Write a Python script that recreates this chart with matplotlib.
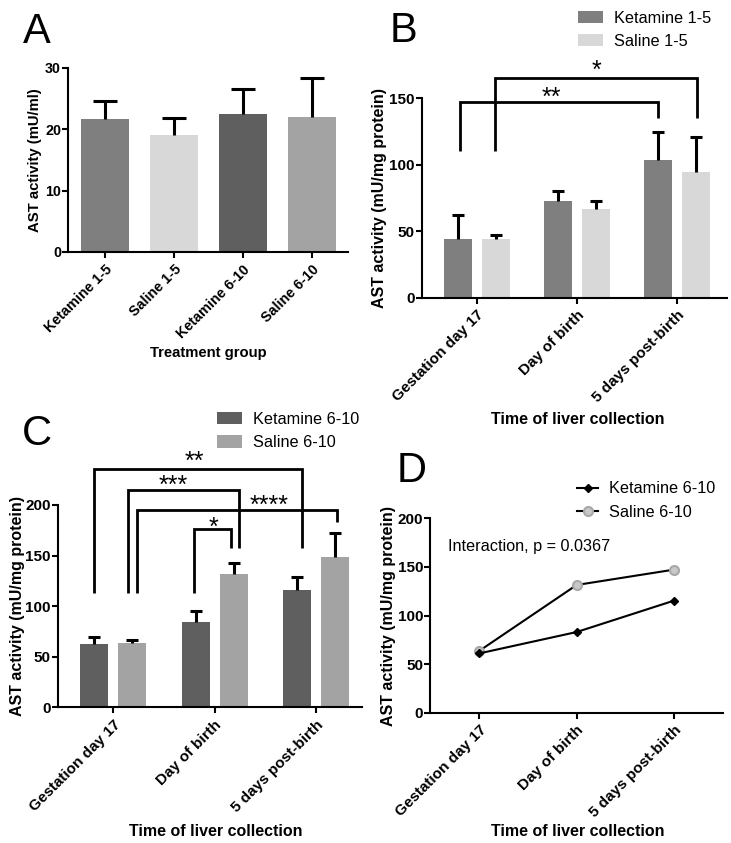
import matplotlib
matplotlib.use('Agg')
import matplotlib.pyplot as plt
from matplotlib.patches import Patch
from matplotlib.lines import Line2D
import numpy as np

plt.rcParams['font.family'] = ['Liberation Sans', 'DejaVu Sans']

# ---------------- data ----------------
a_groups = ['Ketamine 1-5', 'Saline 1-5', 'Ketamine 6-10', 'Saline 6-10']
a_means = [21.6, 19.1, 22.5, 21.9]
a_sem = [2.9, 2.7, 4.1, 6.4]

times = ['Gestation day 17', 'Day of birth', '5 days post-birth']
b_ket = [43.9, 73.0, 103.6]
b_ket_sem = [18.1, 7.0, 21.3]
b_sal = [44.0, 67.0, 94.4]
b_sal_sem = [3.2, 6.0, 26.5]

c_ket = [62.6, 84.0, 116.0]
c_ket_sem = [7.2, 11.5, 13.0]
c_sal = [63.9, 132.0, 148.3]
c_sal_sem = [2.3, 11.0, 23.7]

d_ket = [61.0, 83.0, 115.3]
d_sal = [63.6, 131.4, 147.2]

# significance brackets: (x_left, x_right, y_line, y_left_end, y_right_end)
b_brackets = [(-0.17, 1.813, 147.3, 110.6, 135.0), (0.18, 2.197, 165.4, 110.6, 135.5)]
b_stars = [('**', 0.747, 144.8), ('*', 1.193, 165.7)]
c_brackets = [(-0.187, 1.859, 235.8, 112.7, 157.0),
              (0.142, 1.240, 215.0, 112.7, 157.8),
              (0.231, 2.204, 194.7, 112.7, 182.9),
              (0.799, 1.158, 176.2, 112.7, 157.8)]
c_stars = [('**', 0.803, 235.3), ('***', 0.596, 211.9), ('****', 1.533, 192.2), ('*', 0.987, 170.8)]

# colours
col_k15 = '#7f7f7f'
col_s15 = '#d8d8d8'
col_k610 = '#5f5f5f'
col_s610 = '#a3a3a3'

W, H = 731, 843
fig = plt.figure(figsize=(W / 100, H / 100), dpi=100)


def add_axes(x0, x1, ytop, ybot):
    return fig.add_axes([x0 / W, 1 - ybot / H, (x1 - x0) / W, (ybot - ytop) / H])


def style(ax, tick_fs):
    for s in ['top', 'right']:
        ax.spines[s].set_visible(False)
    for s in ['left', 'bottom']:
        ax.spines[s].set_linewidth(1.5)
    ax.tick_params(axis='both', direction='out', length=4, width=1.5, labelsize=tick_fs)
    ax.tick_params(axis='y', pad=1)
    ax.tick_params(axis='x', pad=3.5)
    for lab in ax.get_yticklabels():
        lab.set_fontweight('bold')


def xlabels(ax, labels):
    ax.set_xticklabels(labels, rotation=45, ha='right', va='top', rotation_mode='anchor',
                       fontweight='bold')


def errs(ax, x, means, sems, capw):
    x = np.asarray(x, float)
    m = np.asarray(means, float)
    top = m + np.asarray(sems, float)
    ax.vlines(x, m, top, color='k', lw=2.2)
    ax.hlines(top, x - capw, x + capw, color='k', lw=2.2)


def set_labels(ax, xl, yl, xpos, ypos_x, fs):
    ax.set_xlabel(xl, fontweight='bold', fontsize=fs, va='center')
    ax.set_ylabel(yl, fontweight='bold', fontsize=fs, va='center')
    ax.xaxis.set_label_coords(xpos[0] / W, 1 - xpos[1] / H, transform=fig.transFigure)
    ax.yaxis.set_label_coords(ypos_x[0] / W, 1 - ypos_x[1] / H, transform=fig.transFigure)


def brackets(ax, brs, stars):
    for xl, xr, yt, y1, y2 in brs:
        ax.plot([xl, xl, xr, xr], [y1, yt, yt, y2], color='k', lw=2.0,
                clip_on=False, solid_joinstyle='miter', solid_capstyle='butt')
    for s, x, y in stars:
        ax.text(x, y, s, ha='center', va='baseline', fontsize=18, clip_on=False)


# ---------------- A ----------------
axA = add_axes(68, 348, 67.7, 252)
xa = np.arange(len(a_groups))
axA.bar(xa, a_means, width=0.70, color=[col_k15, col_s15, col_k610, col_s610])
errs(axA, xa, a_means, a_sem, 0.174)
axA.set_xlim(-0.536, 3.522)
axA.set_ylim(0, 30)
axA.set_yticks([0, 10, 20, 30])
axA.set_xticks(xa)
xlabels(axA, a_groups)
style(axA, 10.3)
set_labels(axA, 'Treatment group', 'AST activity (mU/ml)', (208.5, 353), (35.5, 160), 10.7)

# ---------------- B ----------------
axB = add_axes(421.7, 727, 98.3, 297.7)
xt = np.arange(len(times))
axB.bar(xt - 0.187, b_ket, width=0.28, color=col_k15, label='Ketamine 1-5')
axB.bar(xt + 0.187, b_sal, width=0.28, color=col_s15, label='Saline 1-5')
errs(axB, xt - 0.187, b_ket, b_ket_sem, 0.06)
errs(axB, xt + 0.187, b_sal, b_sal_sem, 0.06)
axB.set_xlim(-0.553, 2.5)
axB.set_ylim(0, 150)
axB.set_yticks([0, 50, 100, 150])
axB.set_xticks(xt)
xlabels(axB, times)
style(axB, 11)
set_labels(axB, 'Time of liver collection', 'AST activity (mU/mg protein)', (578, 420), (379.5, 198), 11.5)
brackets(axB, b_brackets, b_stars)

# ---------------- C ----------------
axC = add_axes(57.7, 361.7, 505, 707.3)
axC.bar(xt - 0.187, c_ket, width=0.275, color=col_k610, label='Ketamine 6-10')
axC.bar(xt + 0.187, c_sal, width=0.275, color=col_s610, label='Saline 6-10')
errs(axC, xt - 0.187, c_ket, c_ket_sem, 0.06)
errs(axC, xt + 0.187, c_sal, c_sal_sem, 0.06)
axC.set_xlim(-0.549, 2.451)
axC.set_ylim(0, 200)
axC.set_yticks([0, 50, 100, 150, 200])
axC.set_xticks(xt)
xlabels(axC, times)
style(axC, 11)
set_labels(axC, 'Time of liver collection', 'AST activity (mU/mg protein)', (216, 831), (17.5, 606), 11.5)
brackets(axC, c_brackets, c_stars)

# ---------------- D ----------------
axD = add_axes(430, 723.3, 518.3, 712.7)
axD.plot(xt, d_sal, color='k', lw=1.5, marker='o', ms=6.5, mfc='#c8c8c8', mec='#a8a8a8', mew=1.5,
         label='Saline 6-10')
axD.plot(xt, d_ket, color='k', lw=1.5, marker='D', ms=4.2, mfc='k', mec='k', label='Ketamine 6-10')
axD.set_xlim(-0.506, 2.506)
axD.set_ylim(0, 200)
axD.set_yticks([0, 50, 100, 150, 200])
axD.set_xticks(xt)
xlabels(axD, times)
style(axD, 11)
set_labels(axD, 'Time of liver collection', 'AST activity (mU/mg protein)', (577.5, 832), (388, 615.5), 11.5)
axD.text(448.3 / W, 1 - 546.7 / H, 'Interaction, p = 0.0367', transform=fig.transFigure,
         ha='left', va='center', fontsize=11.7)

# ---------------- legends ----------------
leg_kw = dict(loc='upper left', bbox_transform=fig.transFigure, frameon=False, borderpad=0,
              borderaxespad=0, handletextpad=0.65, labelspacing=0.5, fontsize=11.7)
axB.legend([Patch(facecolor=col_k15, edgecolor='none'), Patch(facecolor=col_s15, edgecolor='none')],
           ['Ketamine 1-5', 'Saline 1-5'], bbox_to_anchor=(578 / W, 1 - 10.8 / H),
           handlelength=1.54, handleheight=0.8, **leg_kw)
axC.legend([Patch(facecolor=col_k610, edgecolor='none'), Patch(facecolor=col_s610, edgecolor='none')],
           ['Ketamine 6-10', 'Saline 6-10'], bbox_to_anchor=(217 / W, 1 - 411.9 / H),
           handlelength=1.54, handleheight=0.8, **leg_kw)
hk = Line2D([], [], color='k', lw=1.5, marker='D', ms=4.2, mfc='k', mec='k')
hs = Line2D([], [], color='k', lw=1.5, marker='o', ms=6.5, mfc='#c8c8c8', mec='#a8a8a8', mew=1.5)
axD.legend([hk, hs], ['Ketamine 6-10', 'Saline 6-10'], bbox_to_anchor=(577 / W, 1 - 481.4 / H),
           handlelength=1.3, **leg_kw)

# ---------------- panel letters ----------------
for letter, x, y in [('A', 23, 43), ('B', 390, 42), ('C', 22, 445), ('D', 397, 482)]:
    fig.text(x / W, 1 - y / H, letter, fontsize=30, ha='left', va='baseline')

fig.savefig('out.png', dpi=100)
